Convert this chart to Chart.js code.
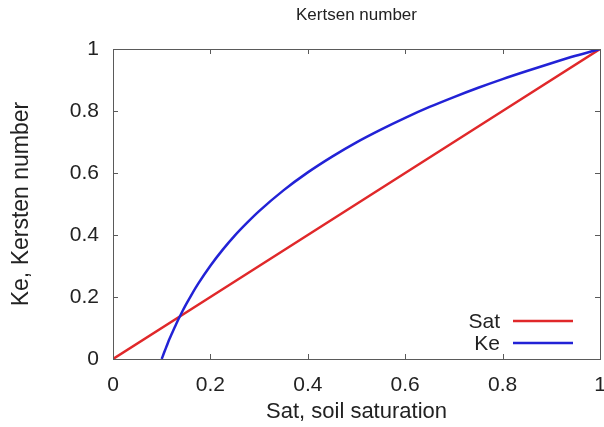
<!DOCTYPE html>
<html>
<head>
<meta charset="utf-8">
<script src="https://cdn.jsdelivr.net/npm/chart.js@4.4.1/dist/chart.umd.min.js"></script>
<style>
  html, body { margin: 0; padding: 0; background: #fff; }
  #wrap { width: 604px; height: 427px; }
</style>
</head>
<body>
<div id="wrap"><canvas id="c" width="604" height="427"></canvas></div>
<script>
// Soil saturation (x) and the corresponding Kersten number (y)
const satLine = [0, 0.2, 0.4, 0.6, 0.8, 1.0];
const satValues = [0, 0.2, 0.4, 0.6, 0.8, 1.0];

const keSat = [0.100, 0.105, 0.110, 0.115, 0.120, 0.130, 0.140, 0.150, 0.160, 0.175,
               0.200, 0.225, 0.250, 0.275, 0.300, 0.350, 0.400, 0.450, 0.500, 0.550,
               0.600, 0.650, 0.700, 0.750, 0.800, 0.850, 0.900, 0.950, 1.000];
const keValues = [0.000, 0.021, 0.041, 0.061, 0.079, 0.114, 0.146, 0.176, 0.204, 0.243,
                  0.301, 0.352, 0.398, 0.439, 0.477, 0.544, 0.602, 0.653, 0.699, 0.740,
                  0.778, 0.813, 0.845, 0.875, 0.903, 0.929, 0.954, 0.978, 1.000];

const xTicks = [0, 0.2, 0.4, 0.6, 0.8, 1];
const yTicks = [0, 0.2, 0.4, 0.6, 0.8, 1];

const TITLE = 'Kertsen number';
const FONT = '"Liberation Sans", Arial, Helvetica, sans-serif';
const RED = '#e0282a';
const BLUE = '#2222d6';

const toPoints = (xs, ys) => xs.map((x, i) => ({ x: x, y: ys[i] }));

// Frame around the plot area with inward tick marks on all four sides
const framePlugin = {
  id: 'frame',
  afterDatasetsDraw(chart) {
    const { ctx, chartArea: a, scales } = chart;
    const len = 5;
    ctx.save();
    ctx.strokeStyle = '#5a5a5a';
    ctx.lineWidth = 1;
    ctx.beginPath();
    xTicks.forEach(v => {
      const px = Math.round(scales.x.getPixelForValue(v)) + 0.5;
      ctx.moveTo(px, a.bottom); ctx.lineTo(px, a.bottom - len);
      ctx.moveTo(px, a.top); ctx.lineTo(px, a.top + len);
    });
    yTicks.forEach(v => {
      const py = Math.round(scales.y.getPixelForValue(v)) + 0.5;
      ctx.moveTo(a.left, py); ctx.lineTo(a.left + len, py);
      ctx.moveTo(a.right, py); ctx.lineTo(a.right - len, py);
    });
    ctx.stroke();
    ctx.strokeRect(Math.round(a.left) + 0.5, Math.round(a.top) + 0.5,
                   Math.round(a.right - a.left), Math.round(a.bottom - a.top));
    ctx.restore();
  }
};

// Title centred over the plot area
const headPlugin = {
  id: 'head',
  afterDraw(chart) {
    const { ctx, chartArea: a } = chart;
    ctx.save();
    ctx.font = '17px ' + FONT;
    ctx.fillStyle = '#222';
    ctx.textAlign = 'center';
    ctx.textBaseline = 'middle';
    ctx.fillText(TITLE, (a.left + a.right) / 2, 15);
    ctx.restore();
  }
};

// Key in the lower right corner: label text right-aligned, line sample after it
const keyPlugin = {
  id: 'key',
  afterDraw(chart) {
    const { ctx, chartArea: a } = chart;
    const textRight = a.right - 100;
    const lineStart = a.right - 87;
    const lineEnd = a.right - 27;
    let y = a.bottom - 38;
    ctx.save();
    ctx.font = '21px ' + FONT;
    ctx.textAlign = 'right';
    ctx.textBaseline = 'middle';
    chart.data.datasets.forEach(ds => {
      ctx.fillStyle = '#222';
      ctx.fillText(ds.label, textRight, y + 1);
      ctx.strokeStyle = ds.borderColor;
      ctx.lineWidth = ds.borderWidth;
      ctx.beginPath();
      ctx.moveTo(lineStart, y);
      ctx.lineTo(lineEnd, y);
      ctx.stroke();
      y += 22;
    });
    ctx.restore();
  }
};

new Chart(document.getElementById('c'), {
  type: 'scatter',
  data: {
    datasets: [
      {
        label: 'Sat',
        data: toPoints(satLine, satValues),
        showLine: true,
        borderColor: RED,
        backgroundColor: RED,
        borderWidth: 2.5,
        pointRadius: 0,
        order: 2
      },
      {
        label: 'Ke',
        data: toPoints(keSat, keValues),
        showLine: true,
        borderColor: BLUE,
        backgroundColor: BLUE,
        borderWidth: 2.5,
        pointRadius: 0,
        cubicInterpolationMode: 'monotone',
        order: 1
      }
    ]
  },
  options: {
    responsive: false,
    animation: false,
    layout: { padding: { left: 0, right: 4, top: 49, bottom: 0 } },
    plugins: {
      legend: { display: false },
      tooltip: { enabled: false },
      title: { display: false }
    },
    scales: {
      x: {
        type: 'linear',
        min: 0,
        max: 1,
        afterFit(scale) {
          scale.height = 68;
          scale.paddingLeft = 0;
          scale.paddingRight = 0;
        },
        afterBuildTicks(scale) { scale.ticks = xTicks.map(v => ({ value: v })); },
        grid: { display: false, drawTicks: false },
        border: { display: false },
        ticks: {
          color: '#222',
          padding: 14,
          maxRotation: 0,
          callback: v => String(v),
          font: { family: FONT, size: 21 }
        },
        title: {
          display: true,
          text: 'Sat, soil saturation',
          color: '#222',
          font: { family: FONT, size: 22 },
          padding: { top: 0, bottom: 2 }
        }
      },
      y: {
        type: 'linear',
        min: 0,
        max: 1,
        afterFit(scale) {
          scale.width = 113;
          scale.paddingTop = 0;
          scale.paddingBottom = 0;
        },
        afterBuildTicks(scale) { scale.ticks = yTicks.map(v => ({ value: v })); },
        grid: { display: false, drawTicks: false },
        border: { display: false },
        ticks: {
          color: '#222',
          padding: 14,
          callback: v => String(v),
          font: { family: FONT, size: 21 }
        },
        title: {
          display: true,
          text: 'Ke, Kersten number',
          color: '#222',
          font: { family: FONT, size: 23 },
          padding: { top: 8, bottom: 0 }
        }
      }
    }
  },
  plugins: [framePlugin, headPlugin, keyPlugin]
});
</script>
</body>
</html>
